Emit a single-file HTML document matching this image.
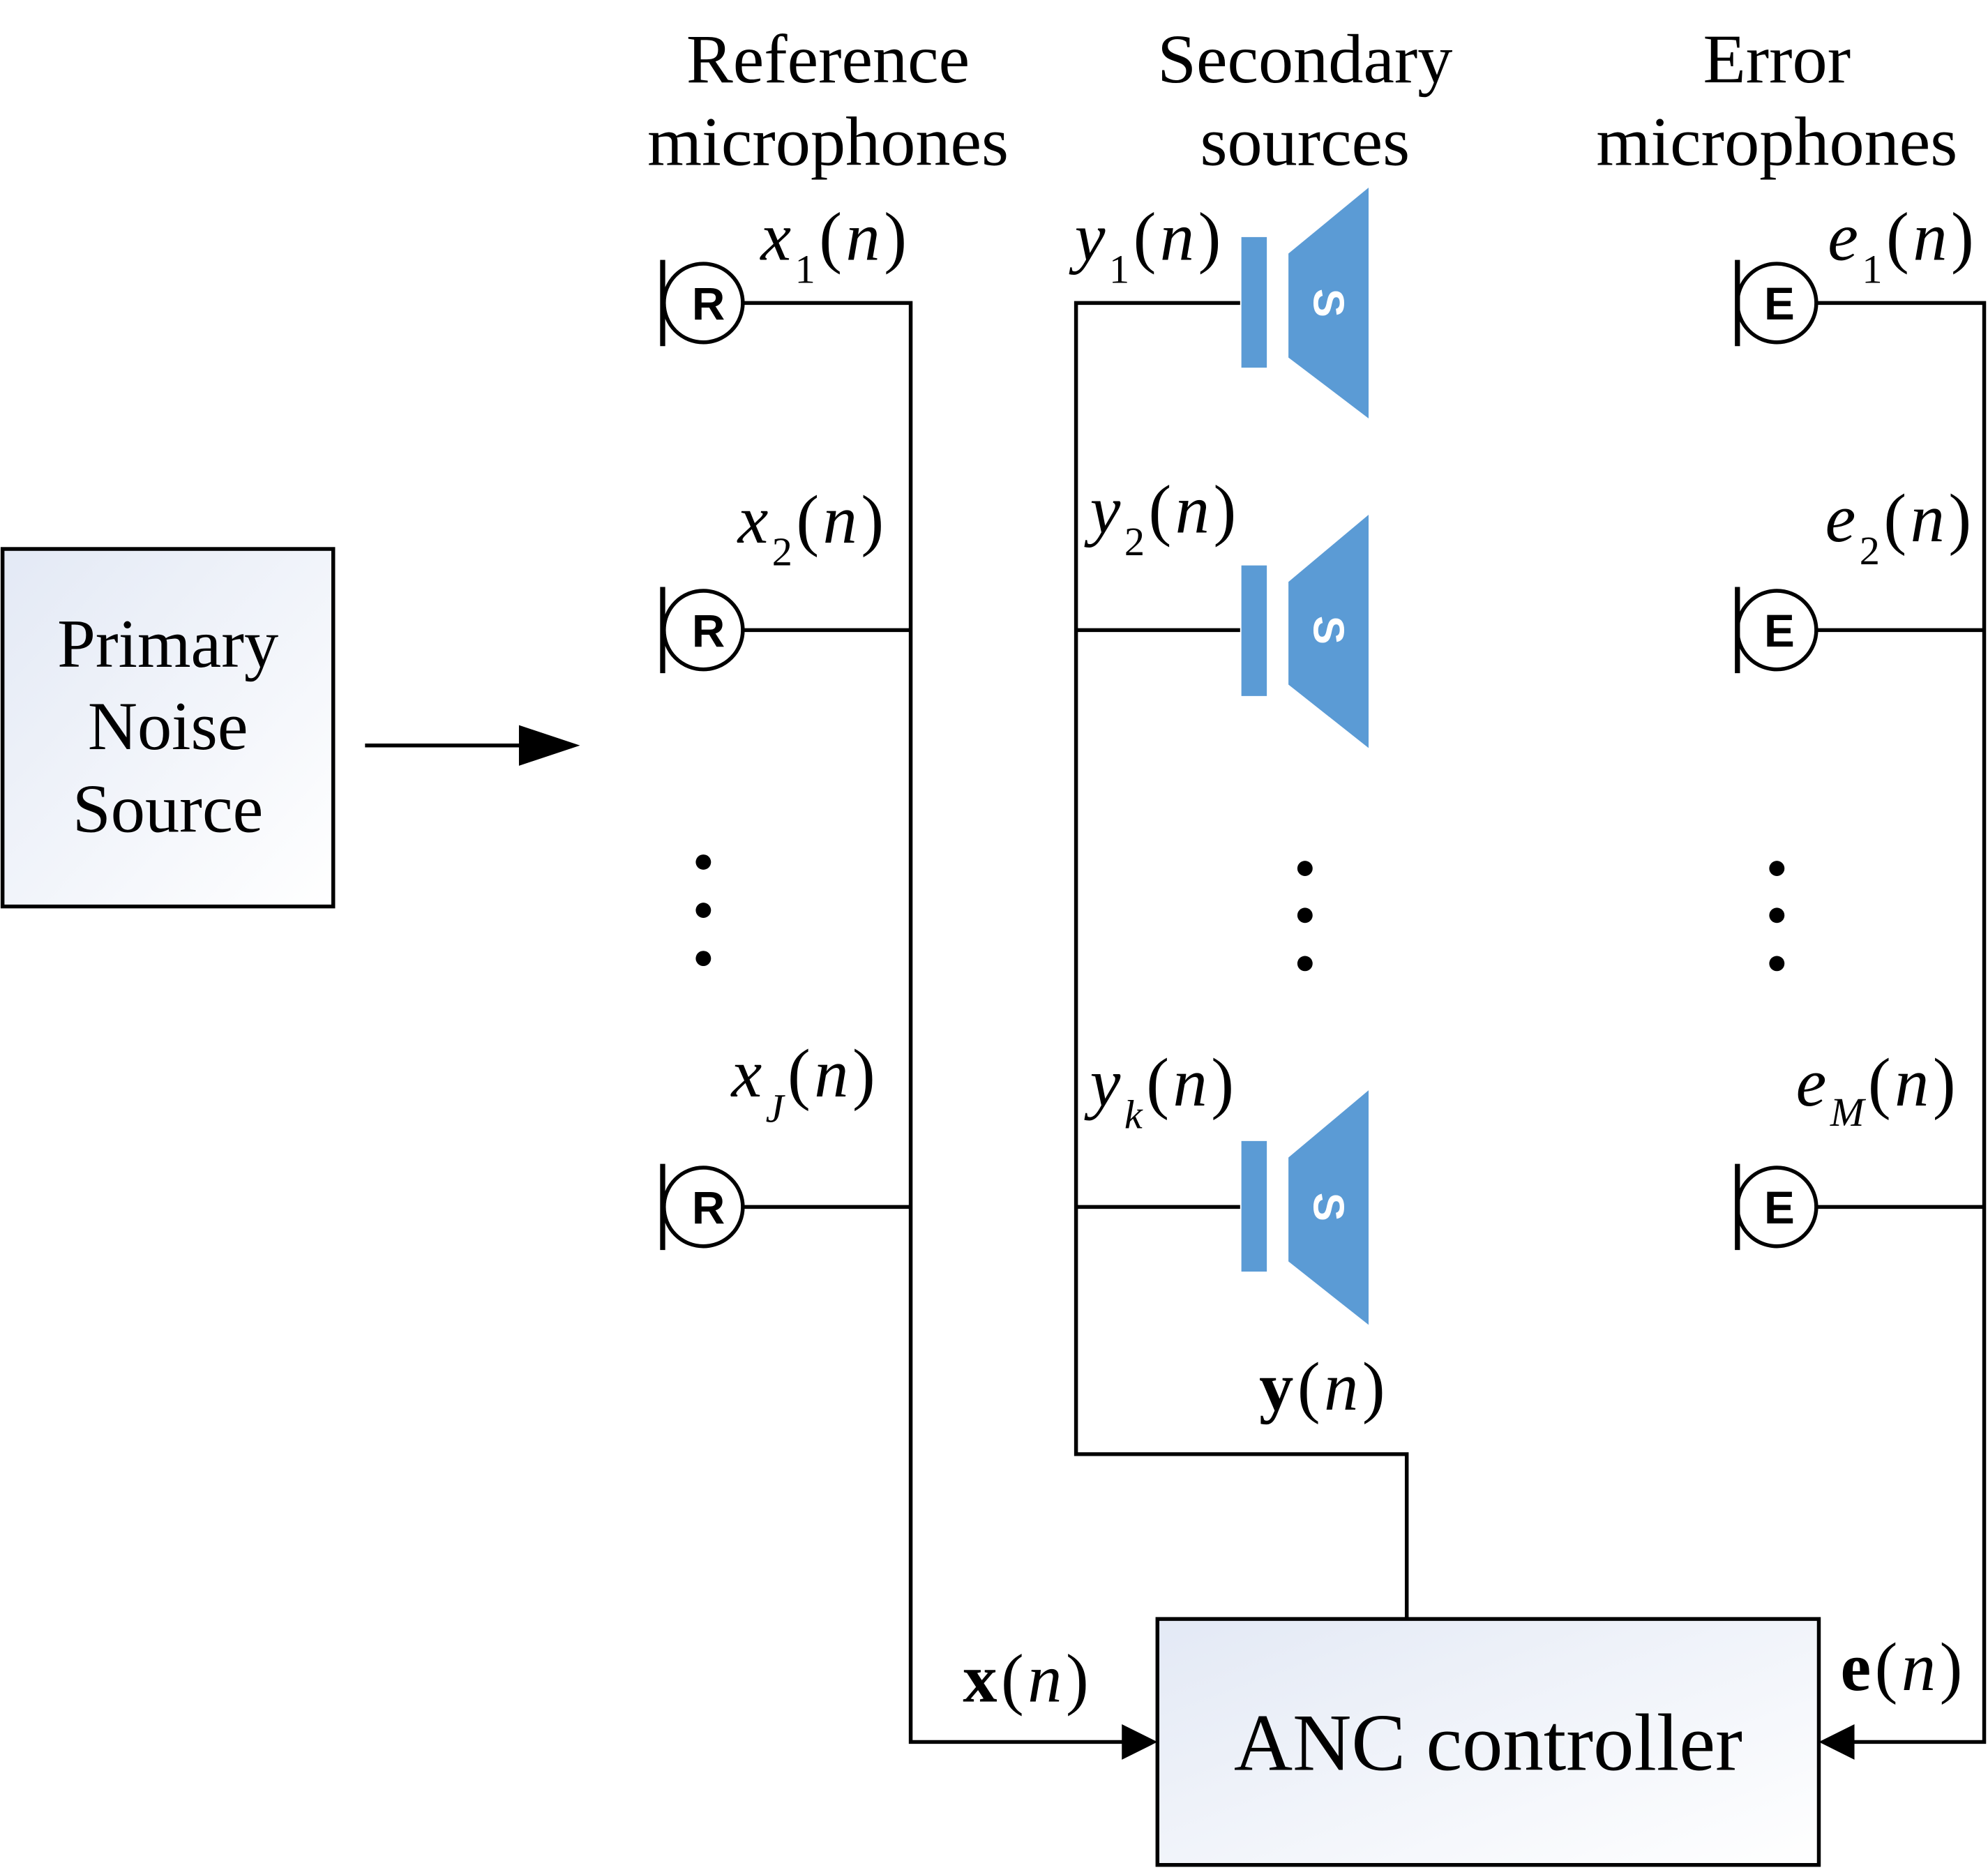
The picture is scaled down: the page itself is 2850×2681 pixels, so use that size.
<!DOCTYPE html>
<html><head><meta charset="utf-8"><style>
html,body{margin:0;padding:0;background:#fff;}
svg{display:block;}
text{font-family:"Liberation Serif",serif;fill:#000;}
.h{font-size:55px;text-anchor:middle;}
.p{font-size:54px;text-anchor:middle;}
.v{font-size:54px;letter-spacing:3px;}
.i{font-style:italic;}
.s{font-size:32px;}
.m{font-family:"Liberation Sans",sans-serif;font-weight:bold;font-size:36px;text-anchor:middle;}
.sp{font-family:"Liberation Sans",sans-serif;font-weight:bold;font-size:34px;fill:#fff;text-anchor:middle;}
</style></head><body>
<svg width="2850" height="2681" viewBox="0 0 1563 1475" preserveAspectRatio="none" xmlns="http://www.w3.org/2000/svg">
<defs>
<linearGradient id="g" x1="0" y1="0" x2="1" y2="1">
<stop offset="0" stop-color="#e3e9f5"/><stop offset="1" stop-color="#ffffff"/>
</linearGradient>
</defs>
<g stroke="#000" stroke-width="3" fill="none">
<rect x="2" y="433" width="260" height="282" fill="url(#g)"/>
<rect x="910" y="1277" width="520" height="194" fill="url(#g)"/>
<line x1="287" y1="588" x2="412" y2="588"/>
<polyline points="585,239 716,239 716,1374 885,1374"/>
<line x1="585" y1="497" x2="716" y2="497"/>
<line x1="585" y1="952" x2="716" y2="952"/>
<polyline points="975,239 846,239 846,1147 1106,1147 1106,1277"/>
<line x1="846" y1="497" x2="975" y2="497"/>
<line x1="846" y1="952" x2="975" y2="952"/>
<polyline points="1429,239 1560,239 1560,1374 1455,1374"/>
<line x1="1429" y1="497" x2="1560" y2="497"/>
<line x1="1429" y1="952" x2="1560" y2="952"/>
</g>
<polygon points="408,572 456,588 408,604" fill="#000"/>
<polygon points="882,1360 910,1374 882,1388" fill="#000"/>
<polygon points="1458,1360 1430,1374 1458,1388" fill="#000"/>
<g stroke="#000" stroke-width="3" fill="#fff">
<circle cx="553" cy="239" r="31"/><circle cx="553" cy="497" r="31"/><circle cx="553" cy="952" r="31"/>
<circle cx="1397" cy="239" r="31"/><circle cx="1397" cy="497" r="31"/><circle cx="1397" cy="952" r="31"/>
</g>
<g stroke="#000" stroke-width="4">
<line x1="521" y1="205" x2="521" y2="273"/><line x1="521" y1="463" x2="521" y2="531"/><line x1="521" y1="918" x2="521" y2="986"/>
<line x1="1366" y1="205" x2="1366" y2="273"/><line x1="1366" y1="463" x2="1366" y2="531"/><line x1="1366" y1="918" x2="1366" y2="986"/>
</g>
<text class="m" x="557" y="252">R</text><text class="m" x="557" y="510">R</text><text class="m" x="557" y="965">R</text>
<text class="m" x="1399" y="252">E</text><text class="m" x="1399" y="510">E</text><text class="m" x="1399" y="965">E</text>
<g fill="#5b9bd5">
<rect x="976" y="187" width="20" height="103"/><polygon points="1013,200 1076,148 1076,330 1013,282"/>
<rect x="976" y="446" width="20" height="103"/><polygon points="1013,459 1076,406 1076,590 1013,540"/>
<rect x="976" y="900" width="20" height="103"/><polygon points="1013,913 1076,860 1076,1045 1013,995"/>
</g>
<text class="sp" transform="translate(1033,239) rotate(90)">S</text>
<text class="sp" transform="translate(1033,497) rotate(90)">S</text>
<text class="sp" transform="translate(1033,952) rotate(90)">S</text>
<g fill="#000">
<circle cx="553" cy="680" r="6"/><circle cx="553" cy="718" r="6"/><circle cx="553" cy="756" r="6"/>
<circle cx="1026" cy="685" r="6"/><circle cx="1026" cy="722" r="6"/><circle cx="1026" cy="760" r="6"/>
<circle cx="1397" cy="685" r="6"/><circle cx="1397" cy="722" r="6"/><circle cx="1397" cy="760" r="6"/>
</g>
<text class="p" x="132" y="526">Primary</text>
<text class="p" x="132" y="591">Noise</text>
<text class="p" x="132" y="656">Source</text>
<text class="h" x="651" y="65">Reference</text><text class="h" x="651" y="130">microphones</text>
<text class="h" x="1026" y="65">Secondary</text><text class="h" x="1026" y="130">sources</text>
<text class="h" x="1397" y="65">Error</text><text class="h" x="1397" y="130">microphones</text>
<text class="h" x="1170" y="1396" style="font-size:64px">ANC controller</text>

<text class="v" x="598" y="205"><tspan class="i">x</tspan><tspan class="s" dy="18">1</tspan><tspan dy="-18">(</tspan><tspan class="i">n</tspan>)</text>
<text class="v" x="580" y="428"><tspan class="i">x</tspan><tspan class="s" dy="18">2</tspan><tspan dy="-18">(</tspan><tspan class="i">n</tspan>)</text>
<text class="v" x="575" y="865"><tspan class="i">x</tspan><tspan class="s i" dy="20">J</tspan><tspan dy="-20">(</tspan><tspan class="i">n</tspan>)</text>
<text class="v" x="845" y="205"><tspan class="i">y</tspan><tspan class="s" dy="18">1</tspan><tspan dy="-18">(</tspan><tspan class="i">n</tspan>)</text>
<text class="v" x="857" y="420"><tspan class="i">y</tspan><tspan class="s" dy="18">2</tspan><tspan dy="-18">(</tspan><tspan class="i">n</tspan>)</text>
<text class="v" x="857" y="872"><tspan class="i">y</tspan><tspan class="s i" dy="18">k</tspan><tspan dy="-18">(</tspan><tspan class="i">n</tspan>)</text>
<text class="v" x="1437" y="205"><tspan class="i">e</tspan><tspan class="s" dy="18">1</tspan><tspan dy="-18">(</tspan><tspan class="i">n</tspan>)</text>
<text class="v" x="1435" y="427"><tspan class="i">e</tspan><tspan class="s" dy="18">2</tspan><tspan dy="-18">(</tspan><tspan class="i">n</tspan>)</text>
<text class="v" x="1412" y="872"><tspan class="i">e</tspan><tspan class="s i" dy="16">M</tspan><tspan dy="-16">(</tspan><tspan class="i">n</tspan>)</text>
<text class="v" x="990" y="1112"><tspan font-weight="bold">y</tspan>(<tspan class="i">n</tspan>)</text>
<text class="v" x="757" y="1342"><tspan font-weight="bold">x</tspan>(<tspan class="i">n</tspan>)</text>
<text class="v" x="1447" y="1333"><tspan font-weight="bold">e</tspan>(<tspan class="i">n</tspan>)</text>
</svg>
</body></html>
